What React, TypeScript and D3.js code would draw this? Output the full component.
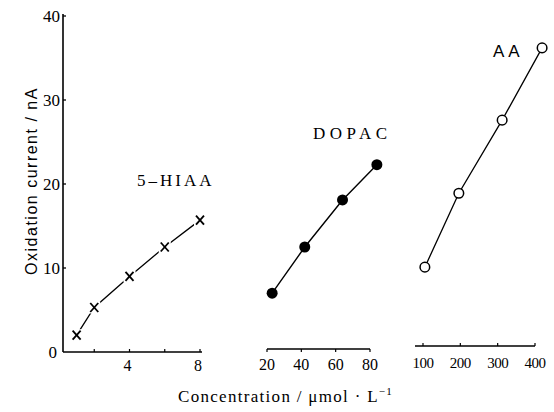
import React from "react";
import * as d3 from "d3";

const yTicks = [0, 10, 20, 30, 40];

const hiaaX = [1, 2, 4, 6, 8];
const hiaaY = [2.0, 5.3, 9.0, 12.5, 15.7];
const hiaaTicks = [2, 4, 6, 8];
const hiaaTickLabels = [4, 8];

const dopacX = [23, 42, 64, 84];
const dopacY = [7.0, 12.5, 18.1, 22.3];
const dopacTicks = [20, 40, 60, 80];

const aaX = [105, 196, 312, 419];
const aaY = [10.1, 18.9, 27.6, 36.2];
const aaTicks = [100, 200, 300, 400];

const SERIF = "'Liberation Serif', 'DejaVu Serif', serif";
const SANS = "'Liberation Sans', 'DejaVu Sans', sans-serif";

export default function App() {
  const W = 554, H = 412;
  const y = d3.scaleLinear().domain([0, 40]).range([352, 16]);
  const x1 = d3.scaleLinear().domain([0, 8]).range([59, 200]);
  const x2 = d3.scaleLinear().domain([20, 80]).range([267, 370]);
  const x3 = d3.scaleLinear().domain([100, 400]).range([423, 535]);

  const line = (xs: number[], ys: number[], xs_: d3.ScaleLinear<number, number>) =>
    d3.line<number>().x((_, i) => xs_(xs[i])).y((v) => y(v))(ys) || "";

  const hiaaPts = hiaaX.map((v, i) => [x1(v), y(hiaaY[i])]);
  const dopacPts = dopacX.map((v, i) => [x2(v), y(dopacY[i])]);
  const aaPts = aaX.map((v, i) => [x3(v), y(aaY[i])]);

  const axisY = 352;
  return (
    <svg width={W} height={H} style={{ position: "absolute", left: 0, top: 0, background: "#fff" }}>
      <rect width={W} height={H} fill="#fff" />
      {/* y axis */}
      <line x1={63} x2={63} y1={14} y2={axisY} stroke="#000" strokeWidth={1.6} />
      {yTicks.map((t) => (
        <g key={t}>
          {t > 0 && <line x1={63} x2={66} y1={y(t)} y2={y(t)} stroke="#000" strokeWidth={1.3} />}
          <text x={t === 0 ? 57 : 60} y={y(t)} dy="0.35em" textAnchor="end" fontFamily={SERIF} fontSize={17}>
            {t}
          </text>
        </g>
      ))}
      <text
        transform={`translate(31,181) rotate(-90)`}
        textAnchor="middle"
        dy="0.35em"
        fontFamily={SANS}
        fontSize={16}
        letterSpacing={1.5}
      >
        Oxidation current / nA
      </text>

      {/* panel 1 axis */}
      <line x1={63} x2={202} y1={axisY} y2={axisY} stroke="#000" strokeWidth={1.6} />
      {hiaaTicks.map((t) => (
        <line key={t} x1={x1(t)} x2={x1(t)} y1={axisY} y2={axisY - 3} stroke="#000" strokeWidth={1.2} />
      ))}
      {hiaaTickLabels.map((t) => (
        <text key={t} x={x1(t) - 2} y={365} dy="0.35em" textAnchor="middle" fontFamily={SERIF} fontSize={16}>
          {t}
        </text>
      ))}

      {/* panel 2 axis */}
      <line x1={x2(20)} x2={x2(80)} y1={349} y2={349} stroke="#000" strokeWidth={1.6} />
      {dopacTicks.map((t) => (
        <g key={t}>
          <line x1={x2(t)} x2={x2(t)} y1={349} y2={352} stroke="#000" strokeWidth={1.2} />
          <text x={x2(t)} y={364} dy="0.35em" textAnchor="middle" fontFamily={SERIF} fontSize={16}>
            {t}
          </text>
        </g>
      ))}

      {/* panel 3 axis */}
      <line x1={415} x2={x3(400)} y1={346} y2={346} stroke="#000" strokeWidth={1.6} />
      {aaTicks.map((t) => (
        <g key={t}>
          <line x1={x3(t)} x2={x3(t)} y1={346} y2={343} stroke="#000" strokeWidth={1.2} />
          <text x={x3(t)} y={363} dy="0.35em" textAnchor="middle" fontFamily={SERIF} fontSize={15} letterSpacing={-0.5}>
            {t}
          </text>
        </g>
      ))}

      {/* lines */}
      <path d={line(hiaaX, hiaaY, x1)} fill="none" stroke="#000" strokeWidth={1.3} />
      <path d={line(dopacX, dopacY, x2)} fill="none" stroke="#000" strokeWidth={1.4} />
      <path d={line(aaX, aaY, x3)} fill="none" stroke="#000" strokeWidth={1.3} />

      {/* markers */}
      {hiaaPts.map(([px, py], i) => (
        <g key={i} stroke="#000" strokeWidth={1.8}>
          <rect x={px - 6} y={py - 6} width={12} height={12} fill="#fff" stroke="none" />
          <line x1={px - 4} x2={px + 4} y1={py - 4.5} y2={py + 4.5} />
          <line x1={px + 4} x2={px - 4} y1={py - 4.5} y2={py + 4.5} />
        </g>
      ))}
      {dopacPts.map(([px, py], i) => (
        <circle key={i} cx={px} cy={py} r={5.5} fill="#000" />
      ))}
      {aaPts.map(([px, py], i) => (
        <circle key={i} cx={px} cy={py} r={4.8} fill="#fff" stroke="#000" strokeWidth={1.5} />
      ))}

      {/* series labels */}
      <text x={137} y={186} fontFamily={SERIF} fontSize={17} letterSpacing={3}>5–HIAA</text>
      <text x={313} y={139} fontFamily={SERIF} fontSize={17} letterSpacing={4.5}>DOPAC</text>
      <text x={493} y={57} fontFamily={SANS} fontSize={17} letterSpacing={4}>AA</text>

      {/* x title */}
      <text x={178} y={402} fontFamily={SERIF} fontSize={17} letterSpacing={1.3}>
        Concentration / μmol · L<tspan dy={-7} fontSize={11}>−1</tspan>
      </text>
    </svg>
  );
}
